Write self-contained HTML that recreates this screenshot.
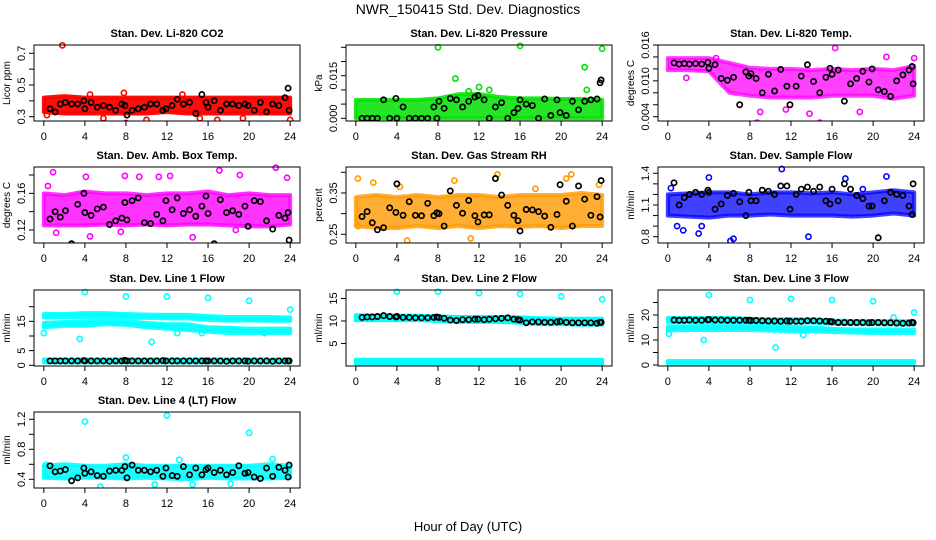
<!DOCTYPE html>
<html><head><meta charset="utf-8"><style>
html,body{margin:0;padding:0;background:#fff}
svg{display:block}
text{font-family:"Liberation Sans",sans-serif;fill:#000}
</style></head><body>
<svg id="c" width="936" height="540" viewBox="0 0 936 540">
<text x="468" y="14" text-anchor="middle" font-size="14">NWR_150415  Std. Dev. Diagnostics</text>
<text x="468" y="531" text-anchor="middle" font-size="13">Hour of Day (UTC)</text>
</svg>
<script>
// ---- data ----
const xTicks = [0,4,8,12,16,20,24];
const bandHours = [0,2,4,6,8,10,12,14,16,18,20,22,24];
const blackHours = [0.6,1.1,1.6,2.1,2.7,3.3,3.9,4.0,4.6,5.2,5.8,6.4,7.0,7.6,7.9,8.1,8.6,9.2,9.8,10.4,11.0,11.6,11.9,12.5,13.0,13.6,14.2,14.8,15.4,15.8,16.0,16.6,17.2,17.8,18.4,19.0,19.6,19.9,20.5,21.1,21.7,22.3,22.9,23.5,23.8,23.9];

const co2Lo = [0.33,0.32,0.32,0.32,0.32,0.32,0.33,0.32,0.32,0.32,0.32,0.32,0.32];
const co2Hi = [0.42,0.43,0.42,0.42,0.42,0.42,0.42,0.42,0.42,0.42,0.42,0.42,0.42];
const co2OutX = [1.8,5.8,8.0,7.8,4.5,15.2,19.4,24.0,10.0,16.9,0.3,13.5];
const co2OutY = [0.75,0.29,0.26,0.45,0.44,0.29,0.29,0.28,0.28,0.28,0.31,0.44];
const co2Black = [0.35,0.33,0.38,0.39,0.38,0.38,0.40,0.35,0.39,0.36,0.37,0.36,0.34,0.38,0.37,0.31,0.34,0.35,0.36,0.38,0.38,0.34,0.35,0.37,0.41,0.38,0.39,0.32,0.44,0.39,0.36,0.40,0.34,0.38,0.38,0.37,0.38,0.37,0.34,0.39,0.33,0.38,0.37,0.42,0.48,0.34];

const presLo = [0,0,0,0,0,0,0,0,0,0,0,0,0];
const presHi = [0.0065,0.0065,0.0065,0.0065,0.007,0.0085,0.0085,0.0075,0.007,0.007,0.0068,0.0068,0.0065];
const presOutX = [8.0,16.0,24.0,22.3,9.7,12.0,13.0,11.0,22.5];
const presOutY = [0.025,0.0255,0.0245,0.018,0.014,0.011,0.010,0.0095,0.010];
const presBlack = [0,0,0,0,0.0065,0,0.007,0,0.004,0,0,0,0,0.004,0,0.006,0.0035,0.007,0.0065,0.004,0.006,0.0075,0.008,0.0065,0,0.004,0.0055,0,0.002,0.0035,0.0065,0.005,0.0045,0,0.0068,0.001,0.0065,0.002,0.001,0.006,0.003,0.006,0.0065,0.0068,0.0125,0.0135];

const ltLo = [0.0118,0.0118,0.0116,0.008,0.0075,0.0072,0.0072,0.0072,0.0075,0.0075,0.0075,0.007,0.0075];
const ltHi = [0.0138,0.0138,0.0138,0.0130,0.0122,0.0120,0.0120,0.0118,0.0120,0.0118,0.0120,0.0118,0.0125];
const ltOutX = [8.7,14.8,16.3,21.3,1.8,18.7,9.0,11.5,13.8,24.0,4.7];
const ltOutY = [0.0030,0.0030,0.0155,0.0140,0.0105,0.0048,0.0048,0.0052,0.0045,0.0138,0.0138];
const ltBlack = [0.0130,0.0128,0.0129,0.0128,0.0129,0.0128,0.0131,0.0121,0.0127,0.0104,0.0101,0.0106,0.0060,0.0115,0.0108,0.0112,0.0104,0.0080,0.0111,0.0083,0.0119,0.0091,0.0060,0.0091,0.0108,0.0127,0.0099,0.0080,0.0106,0.0121,0.0111,0.0118,0.0066,0.0095,0.0104,0.0116,0.0098,0.0120,0.0085,0.0082,0.0074,0.0100,0.0110,0.0118,0.0124,0.0095];

const ambLo = [0.125,0.125,0.125,0.126,0.125,0.126,0.125,0.126,0.126,0.125,0.124,0.124,0.126];
const ambHi = [0.160,0.158,0.162,0.160,0.160,0.158,0.160,0.160,0.162,0.158,0.160,0.158,0.158];
const ambOutX = [0.9,0.4,4.1,7.9,9.3,11.2,12.3,17.1,19.1,22.6,23.7,4.5,1.2,18.7,14.5,7.5];
const ambOutY = [0.183,0.168,0.178,0.179,0.178,0.178,0.179,0.185,0.180,0.188,0.177,0.113,0.117,0.120,0.112,0.118];
const ambBlack = [0.132,0.140,0.134,0.141,0.105,0.148,0.160,0.139,0.136,0.143,0.145,0.126,0.130,0.133,0.150,0.131,0.152,0.155,0.128,0.127,0.137,0.130,0.152,0.142,0.155,0.138,0.142,0.135,0.146,0.157,0.138,0.105,0.153,0.139,0.141,0.137,0.146,0.124,0.152,0.151,0.130,0.121,0.136,0.133,0.139,0.109];

const rhLo = [0.27,0.265,0.265,0.27,0.265,0.27,0.265,0.27,0.268,0.27,0.265,0.27,0.27];
const rhHi = [0.34,0.345,0.34,0.345,0.34,0.345,0.345,0.34,0.345,0.345,0.345,0.35,0.345];
const rhOutX = [0.2,1.7,5.0,8.0,9.6,13.8,21.0,20.5,17.5,4.3,23.7,11.2,0.2];
const rhOutY = [0.385,0.375,0.235,0.22,0.38,0.395,0.395,0.385,0.36,0.365,0.37,0.24,0.27];
const rhBlack = [0.293,0.305,0.278,0.261,0.266,0.314,0.303,0.372,0.296,0.329,0.296,0.295,0.325,0.295,0.302,0.300,0.270,0.355,0.320,0.301,0.332,0.295,0.280,0.297,0.297,0.385,0.345,0.320,0.296,0.283,0.258,0.310,0.309,0.305,0.294,0.267,0.298,0.370,0.330,0.270,0.367,0.335,0.296,0.341,0.292,0.380];

const sfLo = [1.00,0.99,0.98,1.00,1.00,1.01,1.00,1.00,1.00,0.99,1.00,1.02,1.00];
const sfHi = [1.20,1.21,1.22,1.22,1.20,1.22,1.22,1.21,1.22,1.20,1.22,1.24,1.22];
const sfOutX = [0.9,1.5,3.0,3.3,6.1,6.4,11.1,13.7,21.3,4.0,17.3,19.0,0.3];
const sfOutY = [0.90,0.86,0.83,0.90,0.76,0.78,1.44,0.80,1.37,1.36,1.35,1.25,1.26];
const sfBlack = [1.31,1.10,1.17,1.20,1.22,1.20,1.24,1.22,1.06,1.11,1.19,1.21,1.13,1.00,1.22,1.14,1.14,1.24,1.23,1.20,1.28,1.28,1.06,1.20,1.25,1.27,1.23,1.27,1.14,1.11,1.25,1.14,1.30,1.25,1.19,1.16,1.09,1.09,0.79,1.14,1.22,1.20,1.19,1.09,1.01,1.30];

const l1aLo = [16.3,16.5,16.5,16.5,16.3,16.2,16.0,16.0,15.5,15.3,15.3,15.2,15.2];
const l1aHi = [17.5,17.5,17.8,17.8,17.5,17.3,17.2,17.2,16.8,16.5,16.5,16.5,16.3];
const l1bLo = [13.0,13.5,13.5,14.0,13.8,13.0,12.5,12.0,11.5,11.0,11.0,11.0,11.0];
const l1bHi = [14.5,14.8,15.0,15.2,15.0,14.5,14.0,14.0,13.0,12.8,12.5,12.5,12.5];
const l1cLo = [1.0,1.0,1.0,1.0,1.0,1.0,1.0,1.0,1.0,1.0,1.0,1.0,1.0];
const l1cHi = [2.0,2.0,2.0,2.0,2.0,2.0,2.0,2.0,2.0,2.0,2.0,2.0,2.0];
const l1OutX = [4.0,8.0,12.0,16.0,20.0,24.0,0.0,3.5,10.5,15.4,13.0,21.5];
const l1OutY = [25.0,23.5,23.5,23.0,22.0,19.0,11.0,9.0,8.0,11.0,11.0,11.0];
const l1Black = [1.5,1.5,1.5,1.5,1.5,1.5,1.6,1.5,1.5,1.5,1.5,1.4,1.5,1.5,1.7,1.5,1.5,1.5,1.5,1.5,1.5,1.6,1.5,1.5,1.5,1.5,1.5,1.5,1.5,1.5,1.5,1.5,1.5,1.4,1.5,1.5,1.5,1.4,1.5,1.5,1.5,1.4,1.5,1.5,1.5,1.5];

const l2aLo = [10.2,10.2,10.2,10.2,10.0,9.8,9.8,9.8,9.6,9.3,9.3,9.2,9.2];
const l2aHi = [11.3,11.2,11.2,11.2,11.0,10.9,10.9,10.9,10.8,10.6,10.5,10.5,10.5];
const l2bLo = [0.5,0.5,0.5,0.5,0.5,0.5,0.5,0.5,0.5,0.5,0.5,0.5,0.5];
const l2bHi = [1.4,1.4,1.4,1.4,1.4,1.4,1.4,1.4,1.4,1.4,1.4,1.4,1.4];
const l2OutX = [4.0,8.0,12.0,16.0,20.0,24.0];
const l2OutY = [16.5,16.5,16.2,16.0,15.5,14.8];
const l2Black = [10.8,10.9,10.9,11.0,11.2,11.0,10.9,11.0,10.8,10.8,10.7,10.7,10.7,10.8,10.9,10.8,10.6,10.2,10.1,10.3,10.3,10.4,10.4,10.3,10.4,10.5,10.6,10.7,10.4,10.3,10.2,9.6,9.8,9.8,9.7,9.7,9.8,9.9,9.7,9.6,9.6,9.6,9.6,9.5,9.7,9.7];

const l3aLo = [17.2,17.2,17.3,17.3,17.2,17.0,17.0,17.0,16.5,16.3,16.3,16.2,16.2];
const l3aHi = [18.8,18.8,18.8,18.8,18.5,18.3,18.3,18.2,17.8,17.6,17.6,17.5,17.5];
const l3bLo = [13.8,14.0,14.0,14.0,14.0,13.8,13.5,13.5,13.2,13.0,12.8,12.8,12.8];
const l3bHi = [15.5,15.5,15.8,15.8,15.8,15.5,15.3,15.0,14.5,14.2,14.2,14.2,14.2];
const l3cLo = [0.5,0.5,0.5,0.5,0.5,0.5,0.5,0.5,0.5,0.5,0.5,0.5,0.5];
const l3cHi = [1.6,1.6,1.6,1.6,1.6,1.6,1.6,1.6,1.6,1.6,1.6,1.6,1.6];
const l3OutX = [4.0,8.0,12.0,16.0,20.0,24.0,0.1,3.5,10.5,13.2,22.0];
const l3OutY = [28.0,26.0,26.5,26.0,25.5,21.0,12.5,10.0,7.0,12.0,19.0];
const l3Black = [18.0,17.9,17.9,18.0,17.9,17.9,18.1,18.2,18.0,18.0,17.9,17.9,17.9,17.9,17.9,17.8,17.8,17.7,17.6,17.6,17.5,17.6,17.5,17.5,17.5,17.7,17.7,17.6,17.5,17.4,17.3,17.0,17.0,17.0,17.0,17.0,16.9,17.0,17.0,16.9,16.9,16.8,16.7,16.8,17.0,16.9];

const l4Lo = [0.42,0.41,0.42,0.42,0.41,0.42,0.41,0.40,0.42,0.41,0.41,0.41,0.42];
const l4Hi = [0.58,0.60,0.58,0.58,0.60,0.58,0.58,0.58,0.58,0.58,0.58,0.60,0.58];
const l4OutX = [4.0,12.0,20.0,5.5,8.0,13.2,22.3,14.5,0.2,18.2,10.8];
const l4OutY = [1.17,1.25,1.02,0.30,0.69,0.66,0.67,0.33,0.59,0.34,0.33];
const l4Black = [0.58,0.50,0.51,0.53,0.38,0.42,0.55,0.48,0.50,0.45,0.44,0.51,0.52,0.52,0.57,0.42,0.59,0.52,0.52,0.50,0.52,0.44,0.55,0.45,0.44,0.57,0.46,0.55,0.46,0.53,0.55,0.49,0.52,0.46,0.49,0.58,0.48,0.49,0.43,0.41,0.55,0.44,0.56,0.52,0.43,0.59];

// ---- drawing ----
const NS = 'http://www.w3.org/2000/svg';
const svg = document.getElementById('c');
function mk(tag, attrs, parent){
  const e = document.createElementNS(NS, tag);
  for (const k in attrs) e.setAttribute(k, attrs[k]);
  (parent||svg).appendChild(e);
  return e;
}
const cols = [[34,300],[346,612],[658,924]];
const rows = [[45,121],[167,243],[290,366],[412,488]];

function panel(p){
  const [L,R] = cols[p.col], [T,B] = rows[p.row];
  const g = mk('g', {});
  
  
  const pad = (R-L)/1.08*0.04;
  const xs = h => L+pad + h/24*(R-L-2*pad);
  const ys = v => p.y1 + (v-p.v1)*(p.y2-p.y1)/(p.v2-p.v1);
  const clip = mk('clipPath', {id:'cl'+p.name}, g);
  mk('rect', {x:L, y:T-6, width:R-L, height:B-T+6}, clip);
  const data = mk('g', {'clip-path':'url(#cl'+p.name+')'}, g);
  p.bands.forEach(([lo,hi]) => {
    let pts = bandHours.map((h,i)=>xs(h)+','+ys(hi[i]));
    pts = pts.concat(bandHours.slice().reverse().map((h,j)=>{const i=bandHours.length-1-j;return xs(h)+','+ys(lo[i]);}));
    const b = mk('polygon', {points:pts.join(' '), fill:p.color, 'fill-opacity':p.op||1, stroke:p.color, 'stroke-opacity':p.op||1, 'stroke-width':4, 'stroke-linejoin':'round'}, data);
    
    
  });
  p.outX.forEach((h,i) => {
    const c = mk('circle', {cx:xs(h), cy:ys(p.outY[i]), r:2.6, fill:'none', stroke:p.color, 'stroke-width':1.6}, data);
    
    
  });
  blackHours.forEach((h,i) => {
    const c = mk('circle', {cx:xs(h), cy:ys(p.black[i]), r:2.6, fill:'none', stroke:'#000', 'stroke-width':1.7}, data);
    
    
  });
  const box = mk('rect', {x:L, y:T, width:R-L, height:B-T, fill:'none', stroke:'#000', 'stroke-width':1}, g);
  
  
  mk('line', {x1:xs(0), x2:xs(24), y1:B, y2:B, stroke:'#000'}, g);
  xTicks.forEach(t => {
    mk('line', {x1:xs(t), x2:xs(t), y1:B, y2:B+5, stroke:'#000'}, g);
    const tx = mk('text', {x:xs(t), y:B+19, 'text-anchor':'middle', 'font-size':11}, g);
    tx.textContent = t;
    
    
  });
  mk('line', {x1:L, x2:L, y1:ys(p.ticks[0]), y2:ys(p.ticks[p.ticks.length-1]), stroke:'#000'}, g);
  p.ticks.forEach(t => mk('line', {x1:L-5, x2:L, y1:ys(t), y2:ys(t), stroke:'#000'}, g));
  p.labels.forEach(t => {
    const y = ys(t), x = L-9;
    const tx = mk('text', {x:x, y:y, 'text-anchor':'middle', 'font-size':11, transform:'rotate(-90 '+x+' '+y+')'}, g);
    tx.textContent = p.fmt(t);
    
    
  });
  const yx = L-24, yy = (T+B)/2;
  const yt = mk('text', {x:yx, y:yy, 'text-anchor':'middle', 'font-size':10, transform:'rotate(-90 '+yx+' '+yy+')'}, g);
  yt.textContent = p.ylab;
  
  
  const ti = mk('text', {x:(L+R)/2, y:T-8, 'text-anchor':'middle', 'font-size':11, 'font-weight':'bold'}, g);
  ti.textContent = p.title;
  
  
}
const f1 = v=>v.toFixed(1), f2=v=>v.toFixed(2), f3=v=>v.toFixed(3), f0=v=>v.toFixed(0);
panel({name:'co2-panel',col:0,row:0,title:'Stan. Dev. Li-820 CO2',ylab:'Licor ppm',color:'#ff0000',op:0.95,v1:0.3,y1:116.7,v2:0.7,y2:53.3,ticks:[0.3,0.4,0.5,0.6,0.7],labels:[0.3,0.5,0.7],fmt:f1,bands:[[co2Lo,co2Hi]],outX:co2OutX,outY:co2OutY,black:co2Black});
panel({name:'pressure-panel',col:1,row:0,title:'Stan. Dev. Li-820 Pressure',ylab:'kPa',color:'#00e000',op:0.85,v1:0,y1:118.3,v2:0.025,y2:47.3,ticks:[0,0.005,0.01,0.015,0.02,0.025],labels:[0,0.015],fmt:f3,bands:[[presLo,presHi]],outX:presOutX,outY:presOutY,black:presBlack});
panel({name:'licor-temp-panel',col:2,row:0,title:'Stan. Dev. Li-820 Temp.',ylab:'degrees C',color:'#ff00ff',op:0.75,v1:0.004,y1:116.7,v2:0.016,y2:45,ticks:[0.004,0.006,0.008,0.01,0.012,0.014,0.016],labels:[0.004,0.01,0.016],fmt:f3,bands:[[ltLo,ltHi]],outX:ltOutX,outY:ltOutY,black:ltBlack});
panel({name:'amb-box-temp-panel',col:0,row:1,title:'Stan. Dev. Amb. Box Temp.',ylab:'degrees C',color:'#ff00ff',op:0.8,v1:0.12,y1:230,v2:0.18,y2:175,ticks:[0.12,0.14,0.16,0.18],labels:[0.12,0.16],fmt:f2,bands:[[ambLo,ambHi]],outX:ambOutX,outY:ambOutY,black:ambBlack});
panel({name:'gas-rh-panel',col:1,row:1,title:'Stan. Dev. Gas Stream RH',ylab:'percent',color:'#ff9a00',op:0.8,v1:0.25,y1:234.3,v2:0.40,y2:172.3,ticks:[0.25,0.3,0.35,0.4],labels:[0.25,0.35],fmt:f2,bands:[[rhLo,rhHi]],outX:rhOutX,outY:rhOutY,black:rhBlack});
panel({name:'sample-flow-panel',col:2,row:1,title:'Stan. Dev. Sample Flow',ylab:'ml/min',color:'#0000ff',op:0.75,v1:0.8,y1:236.7,v2:1.4,y2:173.3,ticks:[0.8,0.9,1.0,1.1,1.2,1.3,1.4],labels:[0.8,1.1,1.4],fmt:f1,bands:[[sfLo,sfHi]],outX:sfOutX,outY:sfOutY,black:sfBlack});
panel({name:'line1-flow-panel',col:0,row:2,title:'Stan. Dev. Line 1 Flow',ylab:'ml/min',color:'#00ffff',op:0.9,v1:0,y1:365.3,v2:20,y2:306.7,ticks:[0,5,10,15,20],labels:[0,5,15],fmt:f0,bands:[[l1aLo,l1aHi],[l1bLo,l1bHi],[l1cLo,l1cHi]],outX:l1OutX,outY:l1OutY,black:l1Black});
panel({name:'line2-flow-panel',col:1,row:2,title:'Stan. Dev. Line 2 Flow',ylab:'ml/min',color:'#00ffff',v1:0,y1:366,v2:15,y2:298.5,ticks:[5,10,15],labels:[5,10,15],fmt:f0,bands:[[l2aLo,l2aHi],[l2bLo,l2bHi]],outX:l2OutX,outY:l2OutY,black:l2Black});
panel({name:'line3-flow-panel',col:2,row:2,title:'Stan. Dev. Line 3 Flow',ylab:'ml/min',color:'#00ffff',op:0.9,v1:0,y1:365,v2:20,y2:315,ticks:[0,5,10,15,20,25],labels:[0,10,20],fmt:f0,bands:[[l3aLo,l3aHi],[l3bLo,l3bHi],[l3cLo,l3cHi]],outX:l3OutX,outY:l3OutY,black:l3Black});
panel({name:'line4-flow-panel',col:0,row:3,title:'Stan. Dev. Line 4 (LT) Flow',ylab:'ml/min',color:'#00ffff',op:0.9,v1:0.4,y1:479.3,v2:1.2,y2:419.3,ticks:[0.4,0.6,0.8,1.0,1.2],labels:[0.4,0.8,1.2],fmt:f1,bands:[[l4Lo,l4Hi]],outX:l4OutX,outY:l4OutY,black:l4Black});
</script>
</body></html>
